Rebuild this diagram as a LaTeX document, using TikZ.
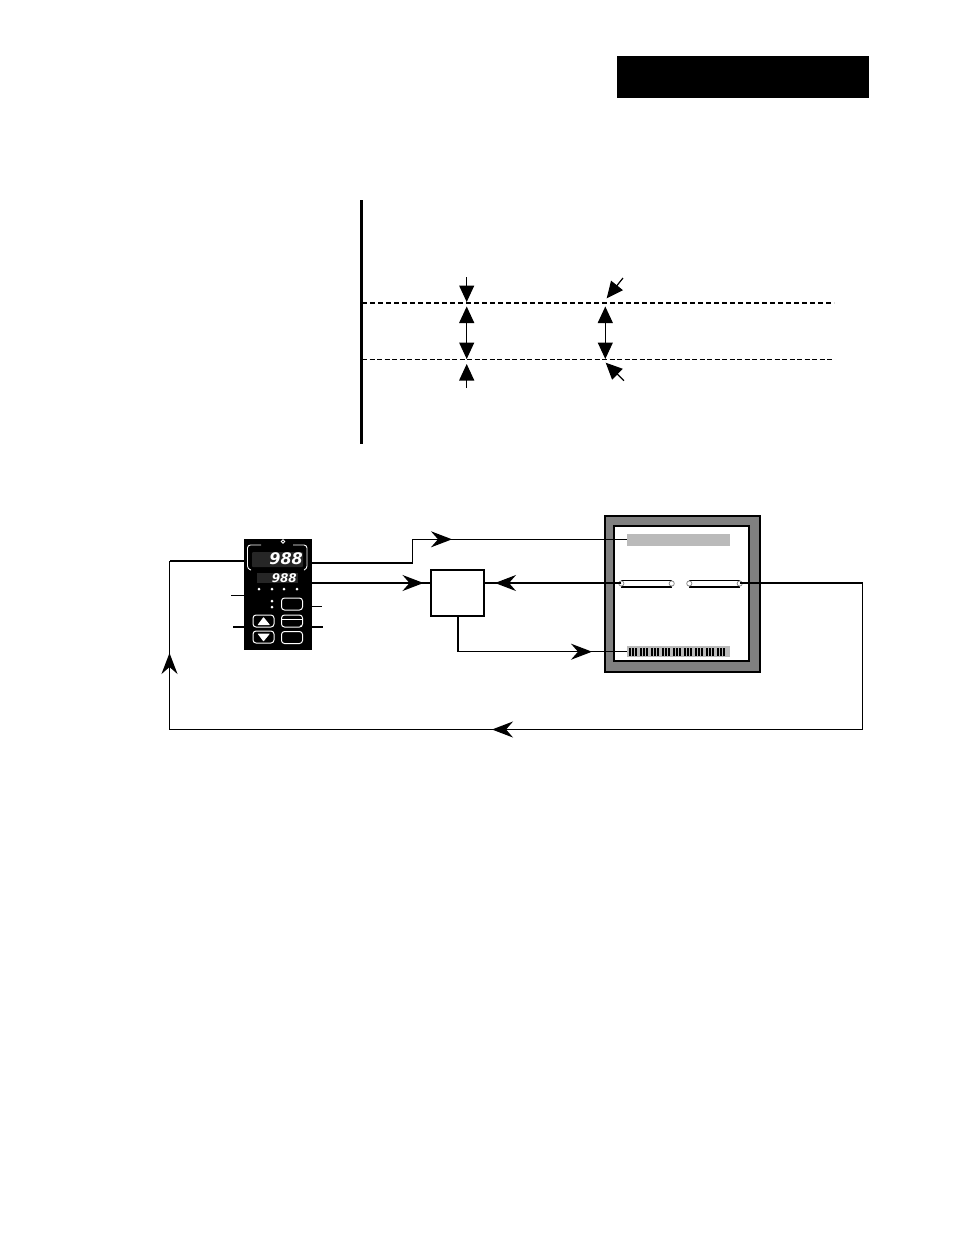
\documentclass[tikz,border=0pt]{standalone}
\usepackage{fontspec}
\newfontfamily\segfont{DejaVu Sans}
\usetikzlibrary{arrows.meta,positioning}
\tikzset{
  wire/.style={line width=2.1pt},
  thinwire/.style={line width=1.2pt},
  flow/.style={-{Stealth[length=21pt,width=16pt,inset=7pt]},line width=1.2pt},
  gaptip/.style={-{Triangle[length=16.5pt,width=15pt]},line width=1.2pt},
  keycap/.style={draw=white,rounded corners=3pt,line width=1pt,minimum width=21pt,minimum height=12pt,inner sep=0pt},
  led/.style={circle,fill=white,inner sep=0pt,minimum size=3pt},
  digits/.style={text=white,inner sep=0pt,anchor=east},
  slot/.style={fill=white,minimum width=50pt,minimum height=6pt,inner sep=0pt},
  slotend/.style={draw=black!45,fill=white,line width=0.8pt}
}
\begin{document}
\begin{tikzpicture}[x=1pt,y=-1pt]
  \useasboundingbox (0,0) rectangle (954,1235);

  % Header block
  \fill[black] (617,56) rectangle (869,98);

  % Limit lines
  \draw[line width=3pt] (361,200) -- (361,444);
  \draw[line width=2pt,dash pattern=on 5pt off 3pt] (362,302.5) -- (834,302.5);
  \draw[line width=0.8pt,dash pattern=on 5pt off 2.5pt] (362,359) -- (834,359);

  % Gap arrows
  \coordinate (gapTop) at (466.7,277);
  \coordinate (gapUpper) at (466.7,302);
  \coordinate (gapLower) at (466.7,359);
  \coordinate (gapMid) at (466.7,331);
  \coordinate (gapBottom) at (466.7,388);
  \draw[gaptip] (gapTop) -- (gapUpper);
  \draw[gaptip] (gapMid) -- (466.7,306.5);
  \draw[gaptip] (gapMid) -- (gapLower);
  \draw[gaptip] (gapBottom) -- (466.7,364);
  \coordinate (bandMid) at (605.3,331);
  \draw[gaptip] (bandMid) -- (605.3,306.5);
  \draw[gaptip] (bandMid) -- (605.3,359);
  \draw[gaptip] (623,278) -- (606.7,298.3);
  \draw[gaptip] (624,380.7) -- (605.7,362.7);

  % Controller
  \node[fill=black,minimum width=68pt,minimum height=111pt,inner sep=0pt] (controller) at (278,594.5) {};
  \node[fill=black!85,rounded corners=1pt,minimum width=51pt,minimum height=15pt,inner sep=0pt] (display) at (277.5,559.5) {};
  \draw[white,line width=0.9pt,rounded corners=3pt] (261,545) -- (247.5,545) -- (247.5,569) -- (251,570);
  \draw[white,line width=0.9pt,rounded corners=3pt] (293,545) -- (307,545) -- (307,569) -- (304,570);
  \draw[white,line width=0.9pt] (283,541.5) circle (1.7pt);
  \node[digits,font=\segfont\bfseries\itshape\fontsize{16}{16}\selectfont] (pvDigits) at (303,559) {988};
  \node[fill=black!85,minimum width=41pt,minimum height=10pt,inner sep=0pt] (minidisplay) at (277.5,578) {};
  \node[digits,font=\segfont\bfseries\itshape\fontsize{12}{12}\selectfont] (svDigits) at (297,578) {988};
  \foreach \ledx in {259,272,284,297} {
    \node[led] at (\ledx,589) {};
  }
  \node[led] at (272,601) {};
  \node[led] at (272,607) {};
  \node[keycap] (keyTop) at (292,604) {};
  \node[keycap] (keyMid) at (292,621) {};
  \draw[white,line width=1pt] (keyMid.west |- 0,619.5) -- (keyMid.east |- 0,619.5);
  \node[led,minimum size=2pt] at (301,626) {};
  \node[keycap] (keyLow) at (292,637.5) {};
  \node[keycap] (keyUp) at (263.5,621) {};
  \node[keycap] (keyDown) at (263.5,637) {};
  \fill[white,rounded corners=0.5pt] (257.5,625) -- (263.5,617) -- (270,625) -- cycle;
  \fill[white,rounded corners=0.5pt] (257.5,633.5) -- (263.5,641.5) -- (270,633.5) -- cycle;

  % Controller leader lines
  \draw[line width=1pt] (231,595) -- (controller.west |- 0,595);
  \draw[wire] (233,627) -- (controller.west |- 0,627);
  \draw[line width=1pt] (controller.east |- 0,606) -- (322,606);
  \draw[wire] (controller.east |- 0,627) -- (323,627);

  % Relay box
  \node[draw,line width=1.9pt,minimum width=53pt,minimum height=46pt,inner sep=0pt] (relay) at (457.5,593) {};

  % Recorder
  \node[draw,line width=2pt,fill=black!50,minimum width=155pt,minimum height=156pt,inner sep=0pt] (recorder) at (682,593.5) {};
  \node[draw,line width=2.2pt,fill=white,minimum width=135pt,minimum height=135pt,inner sep=0pt] (screen) at (681.5,593.5) {};
  \node[fill=black!27,minimum width=103pt,minimum height=12pt,inner sep=0pt] (titlebar) at (678.5,540) {};
  \node[slot] (slotLeft) at (646.5,583.5) {};
  \node[slot] (slotRight) at (714.5,583.5) {};
  \foreach \slotname in {slotLeft,slotRight} {
    \draw[line width=0.9pt] (\slotname.north west) -- (\slotname.north east);
    \draw[line width=1.7pt] (\slotname.south west) -- (\slotname.south east);
    \draw[slotend] (\slotname.west) circle (2.6pt);
    \draw[slotend] (\slotname.east) circle (2.6pt);
  }
  \node[fill=black!27,minimum width=103pt,minimum height=11pt,inner sep=0pt] (barcode) at (678.5,651.5) {};
  \foreach \barx in {629,640,651,662,673,684,695,706,717} {
    \fill[black] (\barx,648) rectangle ++(1.9,7.5);
    \fill[black] (\barx+3,648) rectangle ++(1.9,7.5);
    \fill[black] (\barx+6,648) rectangle ++(1.9,7.5);
  }

  % Signal wiring
  \coordinate (feedbackCorner) at (169.5,561);
  \coordinate (lowerLeft) at (169.5,729.5);
  \coordinate (lowerRight) at (862.5,729.5);
  \coordinate (rightCorner) at (862.5,583);
  \draw[wire] (controller.west |- feedbackCorner) -- (feedbackCorner);
  \draw[thinwire] (feedbackCorner) -- (lowerLeft) -- (lowerRight) -- (rightCorner);
  \draw[wire] (rightCorner) -- (slotRight.east |- rightCorner);
  \draw[flow] (lowerLeft) -- (169.5,653);
  \draw[flow] (lowerRight) -- (492,729.5);
  \draw[wire] (controller.east |- 0,563) -- (412.5,563);
  \draw[thinwire] (412.5,563) -- (412.5,539.3) -- (titlebar.west |- 0,539.3);
  \draw[flow] (412.5,539.3) -- (452,539.3);
  \draw[wire] (controller.east |- 0,583) -- (relay.west |- 0,583);
  \draw[flow] (controller.east |- 0,583) -- (423.5,583);
  \draw[wire] (slotLeft.west |- 0,583) -- (relay.east |- 0,583);
  \draw[flow] (slotLeft.west |- 0,583) -- (495,583);
  \draw[wire] (relay.south -| 458,0) -- (458,651.7);
  \draw[thinwire] (458,651.7) -- (barcode.west |- 0,651.7);
  \draw[flow] (458,651.7) -- (592,651.7);
\end{tikzpicture}
\end{document}
